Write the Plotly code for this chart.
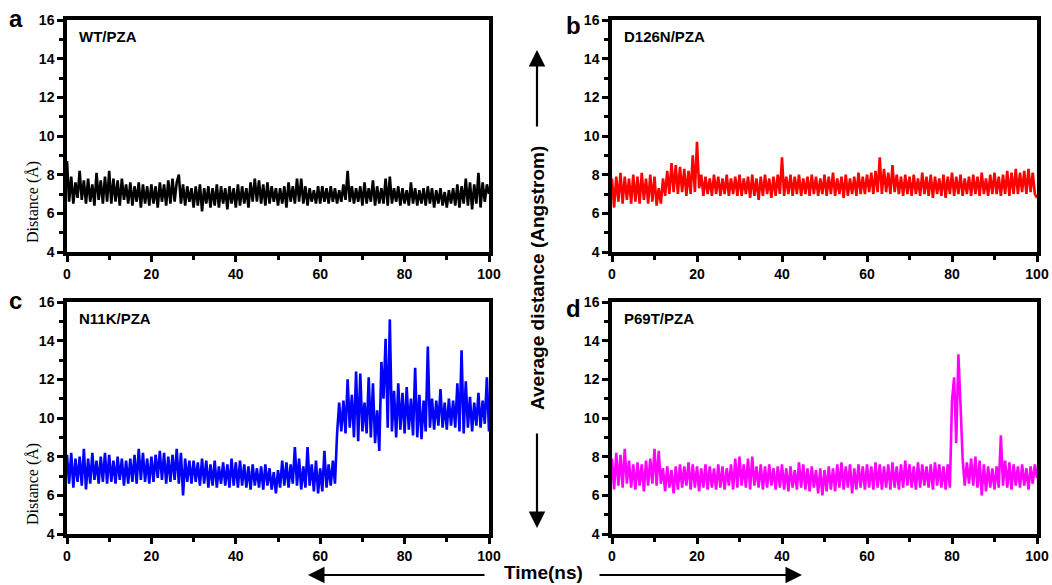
import numpy as np
import plotly.graph_objects as go

# Time axis (ns), sampled every 0.5 ns
time_ns = np.arange(0, 100.5, 0.5)

wt_pza = [
    8.7, 6.6, 7.9, 6.5, 7.6, 6.8, 8.2, 6.7, 7.7, 6.5,
    7.8, 6.6, 7.5, 6.4, 8.1, 6.7, 7.7, 6.5, 7.9, 6.6,
    8.2, 6.5, 7.8, 6.6, 7.7, 6.4, 7.8, 6.7, 7.5, 6.5,
    7.6, 6.4, 7.4, 6.6, 7.6, 6.3, 7.5, 6.5, 7.4, 6.4,
    7.5, 6.5, 7.4, 6.3, 7.6, 6.6, 7.5, 6.4, 7.7, 6.5,
    7.8, 6.6, 7.6, 8.0, 6.5, 7.5, 6.4, 7.4, 6.6, 7.3,
    6.3, 7.4, 6.4, 7.5, 6.1, 7.3, 6.5, 7.4, 6.3, 7.3,
    6.4, 7.5, 6.3, 7.4, 6.5, 7.3, 6.2, 7.4, 6.5, 7.3,
    6.3, 7.5, 6.4, 7.4, 6.5, 7.3, 6.3, 7.6, 6.6, 7.8,
    6.6, 7.7, 6.5, 7.5, 6.4, 7.6, 6.5, 7.4, 6.6, 7.3,
    6.4, 7.3, 6.5, 7.4, 6.3, 7.6, 6.6, 7.4, 6.5, 7.8,
    6.6, 7.8, 6.5, 7.4, 6.4, 7.3, 6.6, 7.2, 6.5, 7.4,
    6.5, 7.4, 6.6, 7.3, 6.5, 7.4, 6.6, 7.3, 6.5, 7.2,
    6.6, 7.5, 6.7, 8.2, 6.6, 7.4, 6.5, 7.3, 6.6, 7.4,
    6.4, 7.6, 6.5, 7.3, 6.6, 7.7, 6.4, 7.4, 6.5, 7.3,
    6.5, 7.8, 6.4, 7.9, 6.5, 7.3, 6.6, 7.4, 6.4, 7.3,
    6.5, 7.2, 6.4, 7.6, 6.5, 7.3, 6.4, 7.2, 6.5, 7.3,
    6.4, 7.4, 6.5, 7.3, 6.3, 7.2, 6.5, 7.3, 6.4, 7.1,
    6.3, 7.2, 6.5, 7.3, 6.4, 7.5, 6.3, 7.4, 6.5, 7.8,
    6.4, 7.6, 6.2, 7.5, 6.5, 8.1, 6.3, 7.6, 6.6, 7.5,
    7.0,
]

d126n_pza = [
    7.8, 6.3, 7.9, 6.6, 8.1, 6.5, 7.9, 6.7, 7.8, 6.5,
    8.0, 6.6, 7.9, 6.5, 8.1, 6.7, 7.8, 6.5, 8.0, 6.6,
    7.9, 6.4, 7.3, 6.5, 7.8, 6.9, 8.2, 7.0, 8.6, 7.1,
    8.5, 7.0, 8.4, 7.1, 8.3, 6.9, 8.2, 7.0, 9.0, 7.1,
    9.7, 7.3, 8.0, 6.9, 7.9, 7.0, 7.8, 6.9, 8.0, 7.0,
    7.9, 6.9, 7.8, 7.0, 8.0, 6.9, 7.8, 7.0, 7.9, 6.9,
    8.0, 6.9, 7.8, 7.0, 7.9, 6.8, 8.0, 6.9, 7.8, 6.7,
    7.9, 6.9, 8.0, 7.0, 7.8, 6.8, 7.9, 6.9, 8.0, 7.0,
    8.9, 6.9, 7.9, 7.0, 8.0, 6.9, 7.9, 7.0, 8.0, 6.9,
    7.8, 7.0, 7.9, 6.9, 8.0, 7.0, 7.9, 6.9, 7.8, 7.0,
    8.0, 6.9, 7.9, 7.0, 8.1, 6.9, 7.8, 7.0, 7.9, 6.8,
    8.0, 6.9, 7.8, 7.0, 7.9, 6.9, 8.1, 7.0, 7.9, 7.0,
    8.0, 7.1, 8.1, 7.0, 8.2, 7.1, 8.9, 7.0, 8.3, 7.1,
    8.1, 7.0, 8.5, 7.1, 8.0, 7.0, 7.9, 6.9, 8.0, 7.0,
    7.9, 6.9, 8.0, 7.0, 7.8, 6.9, 8.1, 7.0, 7.9, 6.9,
    8.0, 6.8, 7.9, 7.0, 7.8, 6.9, 8.0, 6.8, 7.9, 7.0,
    8.1, 6.9, 7.9, 7.0, 8.0, 6.9, 7.8, 7.0, 7.9, 6.9,
    8.0, 7.0, 7.9, 6.9, 8.1, 7.0, 7.8, 6.9, 8.0, 7.0,
    8.1, 7.0, 7.9, 6.9, 8.0, 7.0, 8.2, 6.9, 8.1, 7.0,
    8.3, 7.0, 8.1, 7.1, 8.2, 7.0, 8.3, 7.1, 8.1, 7.0,
    6.8,
]

n11k_pza = [
    8.1, 6.6, 8.2, 6.4, 7.9, 6.7, 8.0, 6.5, 8.4, 6.3,
    7.9, 6.6, 8.2, 6.8, 7.8, 6.6, 8.0, 6.7, 8.2, 6.6,
    8.1, 6.7, 7.8, 6.6, 8.0, 6.8, 7.9, 6.5, 7.8, 6.6,
    7.9, 6.7, 8.1, 6.6, 8.4, 6.8, 8.2, 6.7, 7.9, 6.6,
    8.0, 6.7, 8.1, 6.9, 8.3, 6.8, 8.2, 6.6, 8.0, 6.7,
    8.1, 6.8, 8.4, 6.6, 8.2, 6.0, 7.9, 6.7, 7.8, 6.6,
    7.8, 6.7, 7.7, 6.5, 7.9, 6.6, 7.8, 6.4, 7.6, 6.5,
    7.8, 6.4, 7.5, 6.6, 7.7, 6.5, 7.6, 6.4, 7.9, 6.5,
    7.7, 6.4, 7.8, 6.5, 7.6, 6.4, 7.5, 6.3, 7.6, 6.5,
    7.4, 6.4, 7.5, 6.3, 7.6, 6.5, 7.4, 6.3, 7.2, 6.1,
    7.3, 6.4, 7.8, 6.5, 7.7, 6.4, 7.6, 6.6, 8.5, 6.5,
    7.9, 6.3, 7.5, 6.4, 8.5, 6.5, 7.6, 6.2, 7.8, 6.1,
    7.4, 6.2, 8.3, 6.4, 7.6, 6.5, 7.8, 6.6, 9.2, 10.8,
    9.3, 10.9, 9.2, 12.0, 9.5, 11.2, 9.0, 12.4, 8.8, 12.3,
    9.3, 10.8, 9.2, 12.1, 9.0, 11.8, 8.7, 10.4, 8.3, 12.9,
    11.0, 14.1, 9.5, 15.1, 9.3, 11.4, 9.0, 11.8, 9.4, 11.3,
    9.2, 11.6, 9.4, 11.0, 9.1, 12.6, 9.0, 11.2, 8.9, 10.9,
    9.3, 13.7, 9.5, 11.0, 9.4, 10.9, 9.6, 11.5, 9.5, 10.8,
    9.4, 11.0, 9.6, 10.9, 9.5, 11.8, 9.3, 13.5, 9.2, 11.9,
    9.5, 11.1, 9.3, 10.8, 9.6, 11.3, 9.5, 10.9, 9.7, 12.1,
    9.3,
]

p69t_pza = [
    7.9, 6.3, 8.2, 6.5, 8.1, 6.4, 8.4, 6.6, 7.8, 6.4,
    7.6, 6.3, 7.7, 6.5, 7.6, 6.2, 7.8, 6.5, 7.9, 6.6,
    8.4, 6.5, 8.3, 6.6, 7.4, 6.2, 7.5, 6.4, 7.3, 6.1,
    7.5, 6.3, 7.6, 6.4, 7.5, 6.5, 7.7, 6.3, 7.6, 6.4,
    7.5, 6.2, 7.4, 6.4, 7.6, 6.3, 7.5, 6.4, 7.4, 6.3,
    7.6, 6.4, 7.5, 6.3, 7.4, 6.5, 7.6, 6.3, 7.9, 6.4,
    8.0, 6.5, 7.6, 6.4, 7.9, 6.3, 8.0, 6.5, 7.5, 6.4,
    7.6, 6.3, 7.5, 6.4, 7.6, 6.5, 7.4, 6.3, 7.5, 6.4,
    7.6, 6.3, 7.4, 6.2, 7.5, 6.4, 7.3, 6.3, 7.7, 6.4,
    7.6, 6.3, 7.4, 6.2, 7.5, 6.4, 7.3, 6.1, 7.4, 6.0,
    7.3, 6.2, 7.5, 6.3, 7.4, 6.2, 7.6, 6.4, 7.7, 6.3,
    7.5, 6.4, 7.6, 6.1, 7.4, 6.3, 7.6, 6.4, 7.5, 6.3,
    7.6, 6.4, 7.5, 6.3, 7.7, 6.4, 7.6, 6.3, 7.5, 6.4,
    7.6, 6.3, 7.7, 6.4, 7.5, 6.3, 7.6, 6.4, 7.8, 6.5,
    7.6, 6.4, 7.5, 6.3, 7.7, 6.4, 7.6, 6.5, 7.5, 6.4,
    7.6, 6.3, 7.7, 6.5, 7.6, 6.4, 7.5, 6.3, 7.6, 6.4,
    10.9, 12.1, 8.7, 13.3, 10.7, 7.9, 6.5, 7.7, 6.6, 7.9,
    6.5, 8.0, 6.4, 7.8, 6.0, 7.6, 6.2, 7.5, 6.4, 7.4,
    6.3, 7.5, 6.4, 9.1, 6.5, 7.8, 6.4, 7.7, 6.3, 7.6,
    6.5, 7.5, 6.4, 7.6, 6.5, 7.4, 6.3, 7.5, 6.6, 7.6,
    6.9,
]

panel_titles = ["WT/PZA", "D126N/PZA", "N11K/PZA", "P69T/PZA"]
panel_letters = ["a", "b", "c", "d"]
series = [wt_pza, d126n_pza, n11k_pza, p69t_pza]
colors = ["#000000", "#ff0000", "#0000ff", "#ff00ff"]

x_ticks = [0, 20, 40, 60, 80, 100]
y_ticks = [4, 6, 8, 10, 12, 14, 16]

W, H = 1052, 585
def px(x): return x / W
def py(y): return 1 - y / H

# panel boxes in pixels: (left, right, top, bottom)
boxes = [(67, 489, 20, 252), (612, 1037, 20, 252),
         (67, 489, 302, 534), (612, 1037, 302, 534)]

fig = go.Figure()
layout = dict(
    width=W, height=H,
    margin=dict(l=0, r=0, t=0, b=0),
    paper_bgcolor="white", plot_bgcolor="white",
    showlegend=False,
    font=dict(family="Liberation Sans, Arial", color="black"),
)
annotations = []
for i, (vals, col) in enumerate(zip(series, colors)):
    xa = "xaxis" if i == 0 else f"xaxis{i+1}"
    ya = "yaxis" if i == 0 else f"yaxis{i+1}"
    xr = "x" if i == 0 else f"x{i+1}"
    yr = "y" if i == 0 else f"y{i+1}"
    fig.add_trace(go.Scatter(x=time_ns, y=vals, mode="lines",
                             line=dict(color=col, width=2.6, shape="linear"),
                             xaxis=xr, yaxis=yr, hoverinfo="skip"))
    l, r, t, b = boxes[i]
    common = dict(showline=True, linewidth=3.5, linecolor="black", mirror=True,
                  showgrid=False, zeroline=False, ticks="outside", automargin=False,
                  ticklen=6, tickwidth=2.5, tickcolor="black",
                  tickfont=dict(family="Liberation Sans, Arial", size=14, color="black",
                                weight="bold"))
    layout[xa] = dict(common, domain=[px(l), px(r)], range=[0, 100],
                      tickvals=x_ticks, anchor=yr,
                      minor=dict(tickvals=[10, 30, 50, 70, 90], ticklen=4,
                                 tickwidth=2.5, tickcolor="black", ticks="outside"))
    layout[ya] = dict(common, domain=[py(b), py(t)], range=[4, 16],
                      tickvals=y_ticks, anchor=xr,
                      minor=dict(tickvals=[5, 7, 9, 11, 13, 15], ticklen=4,
                                 tickwidth=2.5, tickcolor="black", ticks="outside"))
    # y axis label (left panels only), placed low as in the reference
    if i in (0, 2):
        annotations.append(dict(text="Distance (Å)", xref="paper", yref="paper",
                                x=px(33), y=py(b - 50), textangle=-90,
                                xanchor="center", yanchor="middle", showarrow=False,
                                font=dict(family="Liberation Serif, Times New Roman",
                                          size=16, color="black")))
    # panel title
    annotations.append(dict(text=panel_titles[i], xref="paper", yref="paper",
                            x=px(l + 10), y=py(t + 16), xanchor="left", yanchor="middle",
                            showarrow=False,
                            font=dict(size=15, family="Liberation Sans, Arial",
                                      color="black", weight="bold")))
    # panel letter
    annotations.append(dict(text=panel_letters[i], xref="paper", yref="paper",
                            x=px(l - 60) if i in (0, 2) else px(l - 48),
                            y=py(t - 2 + (8 if i in (1, 3) else 0)),
                            xanchor="left", yanchor="middle", showarrow=False,
                            font=dict(size=24, family="Liberation Sans, Arial",
                                      color="black", weight="bold")))

# shared labels
annotations.append(dict(text="Average distance (Angstrom)", xref="paper", yref="paper",
                        x=px(537), y=py(278), textangle=-90, showarrow=False,
                        xanchor="center", yanchor="middle",
                        font=dict(size=19, family="Liberation Sans, Arial",
                                  color="black", weight="bold")))
annotations.append(dict(text="Time(ns)", xref="paper", yref="paper",
                        x=px(543), y=py(572), showarrow=False,
                        xanchor="center", yanchor="middle",
                        font=dict(size=19, family="Liberation Sans, Arial",
                                  color="black", weight="bold")))
arrow_style = dict(text="", xref="paper", yref="paper", showarrow=True,
                   arrowhead=2, arrowsize=1.5, arrowwidth=2.2, arrowcolor="black")
# up arrow (head at top)
annotations.append(dict(arrow_style, x=px(537), y=py(50), ax=0, ay=78))
# down arrow (head at bottom)
annotations.append(dict(arrow_style, x=px(537), y=py(528), ax=0, ay=-96))
# left arrow
annotations.append(dict(arrow_style, x=px(308), y=py(575), ax=178, ay=0))
# right arrow
annotations.append(dict(arrow_style, x=px(802), y=py(575), ax=-204, ay=0))

layout["annotations"] = annotations
fig.update_layout(**layout)
fig.write_html("out.html",
               config={"displayModeBar": False},
               post_script="document.body.style.margin='0';"
                           "document.body.style.padding='0';"
                           "document.body.style.overflow='hidden';")
